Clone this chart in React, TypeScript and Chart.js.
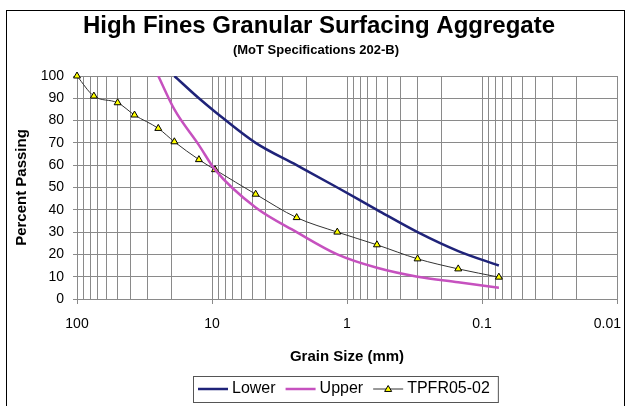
import React, { useEffect, useRef } from 'react';
import { Chart, registerables } from 'chart.js';

Chart.register(...registerables);

// ---- data ----
const SIEVE_SIZES = [100, 75, 50, 37.5, 25, 19, 12.5, 9.5, 4.75, 2.36, 1.18, 0.6, 0.3, 0.15, 0.075];
const TPFR_PASSING = [100, 91, 88, 82.5, 76.5, 70.5, 62.5, 58, 47, 36.5, 30, 24.3, 18, 13.5, 9.8];

const LOWER_SIZES = [19, 12.5, 9.5, 4.75, 2.36, 1.18, 0.6, 0.3, 0.15, 0.075];
const LOWER_PASSING = [100, 90, 84, 70, 60, 50, 40, 30, 21.5, 15];

const UPPER_SIZES = [25, 19, 12.5, 9.5, 4.75, 2.36, 1.18, 0.6, 0.3, 0.15, 0.075];
const UPPER_PASSING = [100, 85, 69, 58, 41, 30, 20, 14, 10, 7.5, 5];

const X_MAJOR_TICKS = [100, 10, 1, 0.1, 0.01];
const X_MINOR_MULTIPLIERS = [2, 3, 4, 5, 6, 7, 8, 9];
const Y_TICK_STEP = 10;

const TITLE = 'High Fines Granular Surfacing Aggregate';
const SUBTITLE = '(MoT Specifications 202-B)';
const X_TITLE = 'Grain Size (mm)';
const Y_TITLE = 'Percent Passing';
const SERIES_NAMES = ['Lower', 'Upper', 'TPFR05-02'];

// ---- styles ----
const FONT = "'Liberation Sans', Arial, Helvetica, sans-serif";
const GRID = '#8a8a8a';
const LOWER_COLOR = '#1f2379';
const UPPER_COLOR = '#c651bf';
const TPFR_COLOR = '#333333';
const MARKER_FILL = '#ffff00';

const isMajor = (v: number) => {
  const l = Math.log10(v);
  return Math.abs(l - Math.round(l)) < 1e-9;
};

// keep the last x label inside the frame, like the original spreadsheet chart
const lastLabelPlugin = {
  id: 'lastLabel',
  beforeDraw(chart: any) {
    const scale = chart.scales.x;
    if (!scale || !scale.getLabelItems) return;
    const items = scale.getLabelItems();
    const last = String(X_MAJOR_TICKS[X_MAJOR_TICKS.length - 1]);
    items.forEach((it: any) => {
      if (it.label === last) {
        it.options.textAlign = 'right';
        it.options.translation = [chart.chartArea.right + 4, it.options.translation[1]];
      }
    });
  },
};

const decorPlugin = {
  id: 'decor',
  afterDraw(chart: any) {
    const ctx = chart.ctx as CanvasRenderingContext2D;
    ctx.save();
    // outer frame
    ctx.strokeStyle = '#000';
    ctx.lineWidth = 1;
    ctx.strokeRect(6.5, 10.5, 618, 440);

    // titles
    ctx.fillStyle = '#000';
    ctx.textAlign = 'center';
    ctx.textBaseline = 'middle';
    ctx.font = `bold 24px ${FONT}`;
    ctx.fillText(TITLE, 319, 26);
    ctx.font = `bold 13px ${FONT}`;
    ctx.fillText(SUBTITLE, 316, 50);

    // legend
    const ds = chart.data.datasets;
    ctx.font = `16px ${FONT}`;
    const swatch = 30;
    const gapText = 4;
    const gapItem = 10;
    const ly = 389;
    const boxL = 193;
    let x = boxL + 5;
    const items: any[] = [];
    ds.forEach((d: any) => {
      const w = ctx.measureText(d.label).width;
      items.push({ d, x, w });
      x += swatch + gapText + w + gapItem;
    });
    const boxR = x - gapItem + 8;
    ctx.strokeStyle = '#555';
    ctx.lineWidth = 1;
    ctx.strokeRect(boxL + 0.5, 376.5, boxR - boxL, 26);
    items.forEach(({ d, x: ix }) => {
      ctx.strokeStyle = d.borderColor;
      ctx.lineWidth = d.borderWidth;
      ctx.beginPath();
      ctx.moveTo(ix, ly);
      ctx.lineTo(ix + swatch, ly);
      ctx.stroke();
      if (d.pointStyle === 'triangle') {
        const cx = ix + swatch / 2;
        const r = 3.5;
        ctx.beginPath();
        ctx.moveTo(cx, ly - r);
        ctx.lineTo(cx + r, ly + r * 0.7);
        ctx.lineTo(cx - r, ly + r * 0.7);
        ctx.closePath();
        ctx.fillStyle = d.pointBackgroundColor;
        ctx.fill();
        ctx.strokeStyle = '#000';
        ctx.lineWidth = 1;
        ctx.stroke();
      }
      ctx.fillStyle = '#000';
      ctx.textAlign = 'left';
      ctx.fillText(d.label, ix + swatch + gapText, ly);
    });
    ctx.restore();
  },
};

export default function App() {
  const ref = useRef<HTMLCanvasElement | null>(null);

  useEffect(() => {
    if (!ref.current) return;
    const xTicks: number[] = [];
    X_MAJOR_TICKS.forEach((m) => {
      xTicks.push(m);
      if (m < 100) X_MINOR_MULTIPLIERS.forEach((k) => xTicks.push(Number((m * k).toPrecision(3))));
    });

    const chart = new Chart(ref.current, {
      type: 'line',
      data: {
        datasets: [
          {
            label: SERIES_NAMES[0],
            data: LOWER_SIZES.map((s, i) => ({ x: s, y: LOWER_PASSING[i] })),
            borderColor: LOWER_COLOR,
            backgroundColor: LOWER_COLOR,
            borderWidth: 2.5,
            pointRadius: 0,
            cubicInterpolationMode: 'monotone',
          },
          {
            label: SERIES_NAMES[1],
            data: UPPER_SIZES.map((s, i) => ({ x: s, y: UPPER_PASSING[i] })),
            borderColor: UPPER_COLOR,
            backgroundColor: UPPER_COLOR,
            borderWidth: 2.5,
            pointRadius: 0,
            cubicInterpolationMode: 'monotone',
          },
          {
            label: SERIES_NAMES[2],
            data: SIEVE_SIZES.map((s, i) => ({ x: s, y: TPFR_PASSING[i] })),
            borderColor: TPFR_COLOR,
            backgroundColor: MARKER_FILL,
            borderWidth: 1,
            pointStyle: 'triangle',
            pointRadius: 4,
            pointBackgroundColor: MARKER_FILL,
            pointBorderColor: '#000',
            pointBorderWidth: 1,
            cubicInterpolationMode: 'monotone',
            clip: false,
          },
        ],
      } as any,
      options: {
        responsive: false,
        animation: false,
        devicePixelRatio: 1,
        layout: { padding: { top: 76, right: 15, bottom: 0, left: 8 } },
        plugins: {
          legend: { display: false },
          title: { display: false },
          tooltip: { enabled: false },
        },
        scales: {
          x: {
            type: 'logarithmic',
            reverse: true,
            min: 0.01,
            max: 100,
            afterBuildTicks: (scale: any) => {
              scale.ticks = xTicks.map((v) => ({ value: v, major: isMajor(v) }));
            },
            afterFit: (scale: any) => {
              scale.height = 107;
            },
            ticks: {
              autoSkip: false,
              maxRotation: 0,
              minRotation: 0,
              padding: 12,
              color: '#000',
              font: { family: FONT, size: 14 },
              callback: (value: any) => (isMajor(Number(value)) ? String(Number(Number(value).toPrecision(3))) : ''),
            },
            grid: {
              color: GRID,
              lineWidth: 1,
              tickLength: 5,
              tickColor: (c: any) => (c.tick && isMajor(c.tick.value) ? GRID : 'rgba(0,0,0,0)'),
            },
            border: { color: GRID, width: 1 },
            title: {
              display: true,
              text: X_TITLE,
              color: '#000',
              font: { family: FONT, size: 15, weight: 'bold' },
              padding: { top: 0, bottom: 40 },
            },
          },
          y: {
            type: 'linear',
            min: 0,
            max: 100,
            afterFit: (scale: any) => {
              scale.width = 69;
            },
            ticks: {
              stepSize: Y_TICK_STEP,
              padding: 9,
              color: '#000',
              font: { family: FONT, size: 14 },
            },
            grid: { color: GRID, lineWidth: 1, tickLength: 4, tickColor: GRID },
            border: { color: GRID, width: 1 },
            title: {
              display: true,
              text: Y_TITLE,
              color: '#000',
              font: { family: FONT, size: 15, weight: 'bold' },
              padding: { top: 5, bottom: 0 },
            },
          },
        },
      } as any,
      plugins: [lastLabelPlugin, decorPlugin],
    });
    return () => chart.destroy();
  }, []);

  return (
    <div style={{ position: 'absolute', left: 0, top: 0, width: 632, height: 406, background: '#fff' }}>
      <canvas ref={ref} width={632} height={406} style={{ display: 'block' }} />
    </div>
  );
}
